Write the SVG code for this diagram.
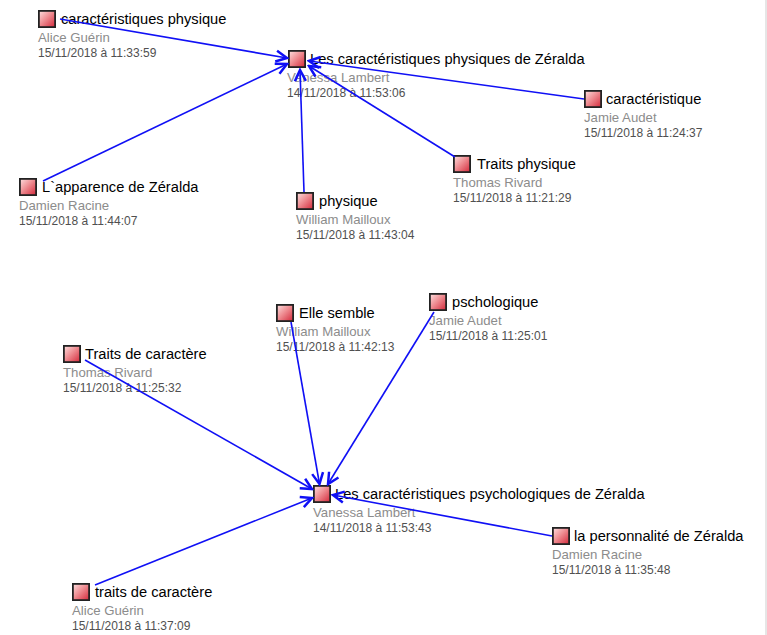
<svg xmlns="http://www.w3.org/2000/svg" width="767" height="635" viewBox="0 0 767 635">
<style>
.lbl{font-family:"Liberation Sans",Arial,sans-serif;font-size:14.67px;fill:#000}
.aut{font-family:"Liberation Sans",Arial,sans-serif;font-size:13.2px;fill:#8c8c8c}
.dat{font-family:"Liberation Sans",Arial,sans-serif;font-size:12px;fill:#505050}
.box{fill:url(#g);stroke:#222;stroke-width:1.8}
.edge{stroke:#1010f5;stroke-width:1.6;fill:none;marker-end:url(#arr)}
</style>
<defs>
<linearGradient id="g" x1="0" y1="0" x2="1" y2="1">
<stop offset="0" stop-color="#fde0e0"/>
<stop offset="0.45" stop-color="#ef8f94"/>
<stop offset="1" stop-color="#d3283a"/>
</linearGradient>
<marker id="arr" markerUnits="userSpaceOnUse" viewBox="-13 -8 15 16" refX="0" refY="0" markerWidth="15" markerHeight="16" orient="auto">
<path d="M-11,-5.5 L0,0 L-11,5.5" fill="none" stroke="#1010f5" stroke-width="2.5"/>
</marker>
</defs>
<rect width="767" height="635" fill="#fff"/>
<rect x="765" y="0" width="2" height="635" fill="#e6e6e6"/>

<g id="n1"><rect class="box" x="38.9" y="10.9" width="16.2" height="16.2"/><text class="lbl" x="61" y="23.5">caractéristiques physique</text><text class="aut" x="38" y="41.5">Alice Guérin</text><text class="dat" x="38" y="57">15/11/2018 à 11:33:59</text></g>
<g id="n2"><rect class="box" x="288.9" y="50.9" width="16.2" height="16.2"/><text class="lbl" x="310" y="63.5">Les caractéristiques physiques de Zéralda</text><text class="aut" x="287" y="81.5">Vanessa Lambert</text><text class="dat" x="287" y="97">14/11/2018 à 11:53:06</text></g>
<g id="n3"><rect class="box" x="584.9" y="90.9" width="16.2" height="16.2"/><text class="lbl" x="606" y="103.5">caractéristique</text><text class="aut" x="584" y="121.5">Jamie Audet</text><text class="dat" x="584" y="137">15/11/2018 à 11:24:37</text></g>
<g id="n4"><rect class="box" x="453.9" y="155.9" width="16.2" height="16.2"/><text class="lbl" x="477" y="168.5">Traits physique</text><text class="aut" x="453" y="186.5">Thomas Rivard</text><text class="dat" x="453" y="202">15/11/2018 à 11:21:29</text></g>
<g id="n5"><rect class="box" x="19.9" y="178.9" width="16.2" height="16.2"/><text class="lbl" x="42" y="191.5">L`apparence de Zéralda</text><text class="aut" x="19" y="209.5">Damien Racine</text><text class="dat" x="19" y="225">15/11/2018 à 11:44:07</text></g>
<g id="n6"><rect class="box" x="296.9" y="192.9" width="16.2" height="16.2"/><text class="lbl" x="319" y="205.5">physique</text><text class="aut" x="296" y="223.5">William Mailloux</text><text class="dat" x="296" y="239">15/11/2018 à 11:43:04</text></g>
<g id="n7"><rect class="box" x="276.9" y="304.9" width="16.2" height="16.2"/><text class="lbl" x="299" y="317.5">Elle semble</text><text class="aut" x="276" y="335.5">William Mailloux</text><text class="dat" x="276" y="351">15/11/2018 à 11:42:13</text></g>
<g id="n8"><rect class="box" x="429.9" y="293.9" width="16.2" height="16.2"/><text class="lbl" x="452" y="306.5">pschologique</text><text class="aut" x="429" y="324.5">Jamie Audet</text><text class="dat" x="429" y="340">15/11/2018 à 11:25:01</text></g>
<g id="n9"><rect class="box" x="63.9" y="345.9" width="16.2" height="16.2"/><text class="lbl" x="85" y="358.5">Traits de caractère</text><text class="aut" x="63" y="376.5">Thomas Rivard</text><text class="dat" x="63" y="392">15/11/2018 à 11:25:32</text></g>
<g id="n10"><rect class="box" x="313.9" y="485.9" width="16.2" height="16.2"/><text class="lbl" x="335" y="498.5">Les caractéristiques psychologiques de Zéralda</text><text class="aut" x="313" y="516.5">Vanessa Lambert</text><text class="dat" x="313" y="532">14/11/2018 à 11:53:43</text></g>
<g id="n11"><rect class="box" x="552.9" y="527.9" width="16.2" height="16.2"/><text class="lbl" x="574" y="540.5">la personnalité de Zéralda</text><text class="aut" x="552" y="558.5">Damien Racine</text><text class="dat" x="552" y="574">15/11/2018 à 11:35:48</text></g>
<g id="n12"><rect class="box" x="72.9" y="583.9" width="16.2" height="16.2"/><text class="lbl" x="95" y="596.5">traits de caractère</text><text class="aut" x="72" y="614.5">Alice Guérin</text><text class="dat" x="72" y="630">15/11/2018 à 11:37:09</text></g>

<g id="connectors">
<line class="edge" x1="60" y1="19" x2="287" y2="58"/>
<line class="edge" x1="43" y1="181" x2="287" y2="64"/>
<line class="edge" x1="304" y1="192" x2="300" y2="70"/>
<line class="edge" x1="455" y1="157" x2="309" y2="66"/>
<line class="edge" x1="584" y1="99" x2="309" y2="61"/>
<line class="edge" x1="85" y1="360" x2="312" y2="489"/>
<line class="edge" x1="291" y1="322" x2="319.5" y2="484"/>
<line class="edge" x1="434" y1="312" x2="328" y2="484"/>
<line class="edge" x1="552" y1="536" x2="333" y2="495"/>
<line class="edge" x1="95" y1="585" x2="312" y2="498"/>
</g>
</svg>
